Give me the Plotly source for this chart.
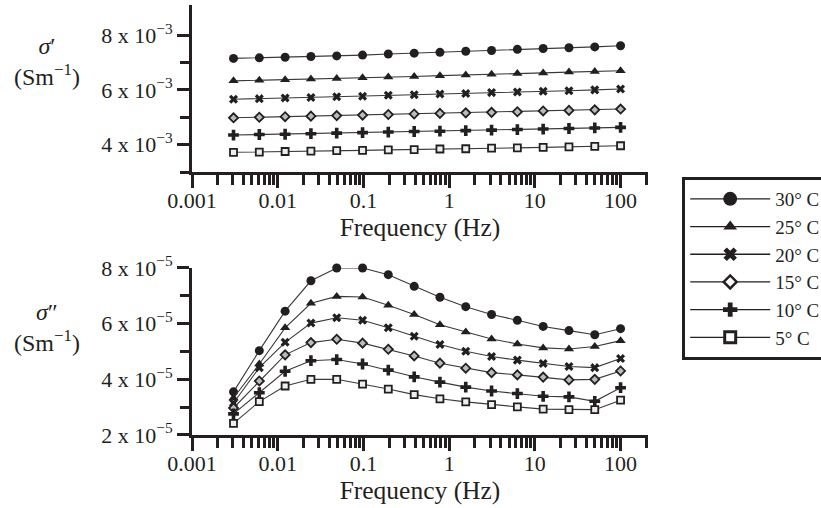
import plotly.graph_objects as go

# ---- data ----
freq = [0.00305, 0.0061, 0.0122, 0.0244, 0.0488, 0.0977, 0.195, 0.391,
        0.781, 1.5625, 3.125, 6.25, 12.5, 25, 50, 100]

labels = ["30° C", "25° C", "20° C", "15° C", "10° C", "5° C"]

# sigma' (x 1e-3 S/m)
s1_30 = [7.15, 7.17, 7.19, 7.22, 7.24, 7.27, 7.31, 7.34, 7.37, 7.41, 7.44, 7.48, 7.51, 7.54, 7.57, 7.61]
s1_25 = [6.33, 6.35, 6.37, 6.40, 6.42, 6.44, 6.47, 6.49, 6.52, 6.54, 6.57, 6.60, 6.62, 6.65, 6.67, 6.70]
s1_20 = [5.66, 5.68, 5.70, 5.72, 5.75, 5.77, 5.80, 5.82, 5.85, 5.87, 5.90, 5.92, 5.95, 5.97, 6.00, 6.03]
s1_15 = [4.98, 5.00, 5.02, 5.04, 5.06, 5.08, 5.10, 5.12, 5.14, 5.16, 5.18, 5.20, 5.23, 5.25, 5.27, 5.30]
s1_10 = [4.35, 4.37, 4.38, 4.40, 4.42, 4.44, 4.46, 4.48, 4.49, 4.51, 4.53, 4.55, 4.57, 4.59, 4.61, 4.63]
s1_05 = [3.72, 3.73, 3.75, 3.76, 3.78, 3.79, 3.81, 3.82, 3.84, 3.85, 3.87, 3.88, 3.90, 3.92, 3.94, 3.96]

# sigma'' (x 1e-5 S/m)
s2_30 = [3.55, 5.03, 6.45, 7.54, 8.00, 8.00, 7.76, 7.34, 6.95, 6.61, 6.33, 6.12, 5.90, 5.75, 5.60, 5.82]
s2_25 = [3.33, 4.55, 5.85, 6.73, 6.98, 6.96, 6.66, 6.33, 5.96, 5.70, 5.45, 5.27, 5.13, 5.09, 5.18, 5.39]
s2_20 = [3.15, 4.42, 5.33, 6.02, 6.21, 6.12, 5.85, 5.55, 5.25, 5.01, 4.82, 4.69, 4.57, 4.46, 4.42, 4.75]
s2_15 = [2.97, 3.94, 4.88, 5.32, 5.44, 5.30, 5.08, 4.84, 4.58, 4.40, 4.24, 4.16, 4.08, 3.98, 4.00, 4.30]
s2_10 = [2.76, 3.52, 4.29, 4.67, 4.71, 4.55, 4.33, 4.09, 3.90, 3.72, 3.58, 3.49, 3.39, 3.37, 3.21, 3.70]
s2_05 = [2.42, 3.20, 3.76, 4.00, 4.00, 3.83, 3.65, 3.45, 3.30, 3.19, 3.09, 3.01, 2.93, 2.91, 2.91, 3.25]

x_ticks = [0.001, 0.01, 0.1, 1, 10, 100]
x_ticktext = ["0.001", "0.01", "0.1", "1", "10", "100"]
y1_ticks = [4, 6, 8]
y2_ticks = [2, 4, 6, 8]

top_series = [s1_30, s1_25, s1_20, s1_15, s1_10, s1_05]
bot_series = [s2_30, s2_25, s2_20, s2_15, s2_10, s2_05]

# ---- styles ----
INK = "#231f20"
FONT = "Liberation Serif"
markers = [
    dict(symbol="circle", size=9, color=INK),
    dict(symbol="triangle-up", size=9, color=INK),
    dict(symbol="x", size=8, color=INK, line=dict(width=0)),
    dict(symbol="diamond", size=7, color="#bbb", line=dict(color=INK, width=1.8)),
    dict(symbol="cross", size=9, color=INK, line=dict(width=0)),
    dict(symbol="square", size=7, color="#eee", line=dict(color=INK, width=1.8)),
]
legend_markers = [
    dict(symbol="circle", size=14, color=INK),
    dict(symbol="triangle-up", size=12, color=INK),
    dict(symbol="x", size=12, color=INK, line=dict(width=0)),
    dict(symbol="diamond", size=10, color="white", line=dict(color=INK, width=2.5)),
    dict(symbol="cross", size=12, color=INK, line=dict(width=0)),
    dict(symbol="square", size=11, color="white", line=dict(color=INK, width=3)),
]
LINE = dict(color="#3a3a3a", width=1.1)

fig = go.Figure()
for i in range(6):
    fig.add_trace(go.Scatter(x=freq, y=[v * 1e-3 for v in top_series[i]],
                             mode="lines+markers", marker=markers[i], line=LINE,
                             showlegend=False, cliponaxis=False, xaxis="x", yaxis="y"))
    fig.add_trace(go.Scatter(x=freq, y=[v * 1e-5 for v in bot_series[i]],
                             mode="lines+markers", marker=markers[i], line=LINE,
                             showlegend=False, cliponaxis=False, xaxis="x2", yaxis="y2"))
for i in range(6):
    fig.add_trace(go.Scatter(x=[None], y=[None], mode="lines+markers", name=labels[i],
                             marker=legend_markers[i], line=dict(color=INK, width=1.3),
                             showlegend=True, xaxis="x", yaxis="y"))

minor_x = [m * 10 ** e for e in range(-3, 3) for m in range(2, 10) if m * 10 ** e < 210]

def xaxis_cfg(anchor):
    return dict(type="log", range=[-3, 2.32], anchor=anchor,
                tickvals=x_ticks, ticktext=x_ticktext,
                ticks="outside", ticklen=13, tickwidth=3, tickcolor=INK,
                ticklabelstandoff=-6,
                minor=dict(tickvals=minor_x, ticks="outside", ticklen=10, tickwidth=3, tickcolor=INK),
                showline=True, linewidth=3, linecolor=INK, showgrid=False, zeroline=False,
                tickfont=dict(family=FONT, size=22, color=INK),
                title=dict(text="Frequency (Hz)", font=dict(family=FONT, size=25.5, color=INK), standoff=0))

def yaxis_cfg(rng, dom, ticks, exp, minor):
    return dict(range=rng, domain=dom,
                tickvals=[t * 10 ** exp for t in ticks],
                ticktext=[f"{t} x 10<sup>−{-exp}</sup>" for t in ticks],
                ticks="outside", ticklen=12, tickwidth=3, tickcolor=INK,
                minor=dict(tickvals=[m * 10 ** exp for m in minor], ticks="outside",
                           ticklen=9, tickwidth=3, tickcolor=INK),
                showline=True, linewidth=3, linecolor=INK, showgrid=False, zeroline=False,
                tickfont=dict(family=FONT, size=22, color=INK))

fig.update_layout(
    width=821, height=508,
    margin=dict(l=192, r=173, t=5, b=73, autoexpand=False),
    paper_bgcolor="white", plot_bgcolor="white",
    xaxis=xaxis_cfg("y"),
    yaxis=yaxis_cfg([3e-3, 9.1e-3], [0.6116, 1], y1_ticks, -3, [3, 5, 7]),
    xaxis2=xaxis_cfg("y2"),
    yaxis2=yaxis_cfg([2e-5, 8e-5], [0, 0.3884], y2_ticks, -5, [3, 5, 7]),
    legend=dict(x=1.075, y=0.6, xanchor="left", yanchor="top",
                bordercolor=INK, borderwidth=3, bgcolor="white",
                itemwidth=80, tracegroupgap=0,
                font=dict(family=FONT, size=19, color=INK)),
    annotations=[
        dict(text="<i>σ</i>′<br>(Sm<sup>−1</sup>)", x=-0.318, y=0.868, xref="paper", yref="paper",
             xanchor="center", yanchor="middle",
             showarrow=False, font=dict(family=FONT, size=24, color=INK), align="center"),
        dict(text="<i>σ</i>″<br>(Sm<sup>−1</sup>)", x=-0.318, y=0.25, xref="paper", yref="paper",
             xanchor="center", yanchor="middle",
             showarrow=False, font=dict(family=FONT, size=24, color=INK), align="center"),
    ],
)

fig.write_html("out.html")
